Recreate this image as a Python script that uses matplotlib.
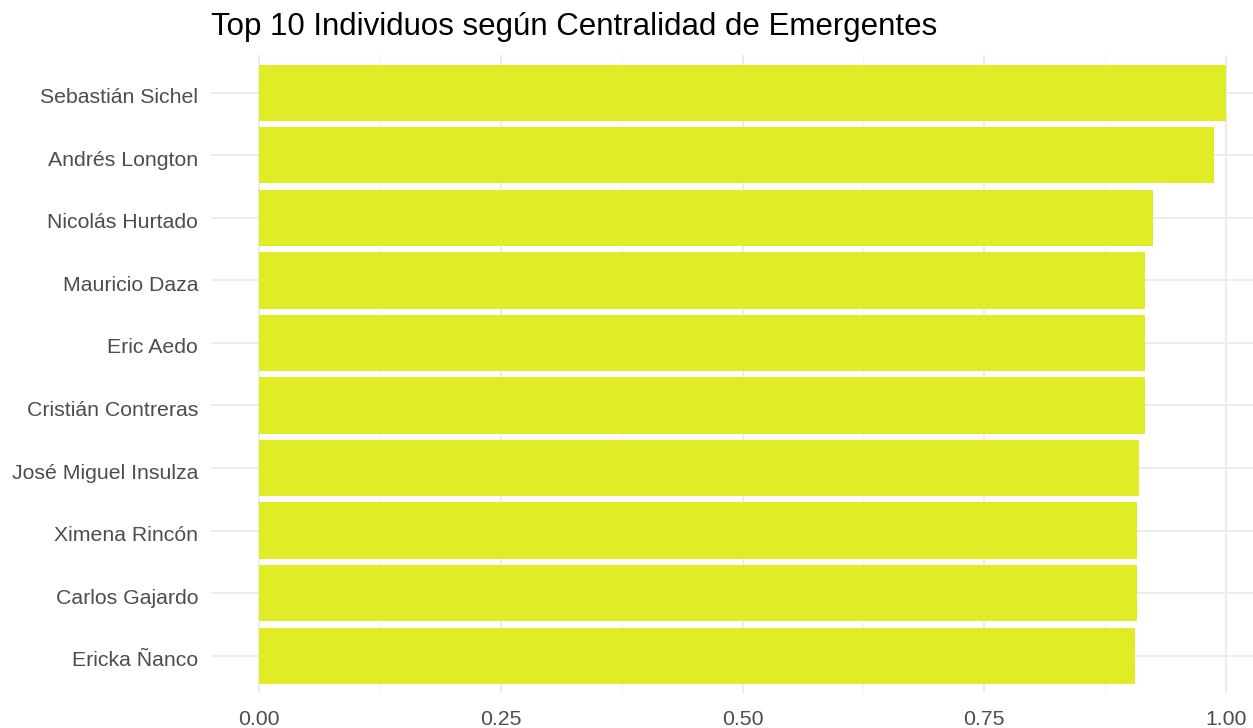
import matplotlib
matplotlib.use("Agg")
import matplotlib.pyplot as plt
from matplotlib.ticker import MultipleLocator
from matplotlib.transforms import ScaledTranslation

plt.rcParams['font.family'] = ['Liberation Sans', 'DejaVu Sans']

names = ["Sebastián Sichel", "Andrés Longton", "Nicolás Hurtado", "Mauricio Daza",
         "Eric Aedo", "Cristián Contreras", "José Miguel Insulza", "Ximena Rincón",
         "Carlos Gajardo", "Ericka Ñanco"]
values = [1.000, 0.988, 0.924, 0.916, 0.916, 0.916, 0.910, 0.908, 0.908, 0.906]
x_ticks = [0.0, 0.25, 0.5, 0.75, 1.0]
x_tick_labels = ["0.00", "0.25", "0.50", "0.75", "1.00"]
title = "Top 10 Individuos según Centralidad de Emergentes"

W, H = 1253, 728
fig = plt.figure(figsize=(W / 100, H / 100), dpi=100)
left, right, top, bottom = 210.6, 1274.4, 55.2, 693.2
ax = fig.add_axes([left / W, 1 - bottom / H, (right - left) / W, (bottom - top) / H])

n = len(names)
ypos = list(range(n, 0, -1))
ax.barh(ypos, values, height=0.9, color="#DFEC26", zorder=2)

ax.set_xlim(-0.05, 1.05)
ax.set_ylim(0.4, n + 0.6)
ax.set_xticks(x_ticks)
ax.set_xticklabels(x_tick_labels)
ax.xaxis.set_minor_locator(MultipleLocator(0.125))
ax.set_yticks(ypos)
ax.set_yticklabels(names)

for s in ax.spines.values():
    s.set_visible(False)
ax.grid(True, which='major', color="#EBEBEB", linewidth=1.3, zorder=0)
ax.grid(True, which='minor', axis='x', color="#F3F3F3", linewidth=0.8, zorder=0)
ax.set_axisbelow(True)
ax.tick_params(axis='both', which='both', length=0, colors="#4D4D4D", labelsize=15.3)
ax.tick_params(axis='x', pad=12)
ax.tick_params(axis='y', pad=9)

shift = ScaledTranslation(0, -3 / 100, fig.dpi_scale_trans)
for lab in ax.get_yticklabels():
    lab.set_transform(lab.get_transform() + shift)

fig.text(211 / W, 1 - 35 / H, title, fontsize=22.5, color="black", ha='left', va='baseline')

fig.savefig("out.png", dpi=100)
